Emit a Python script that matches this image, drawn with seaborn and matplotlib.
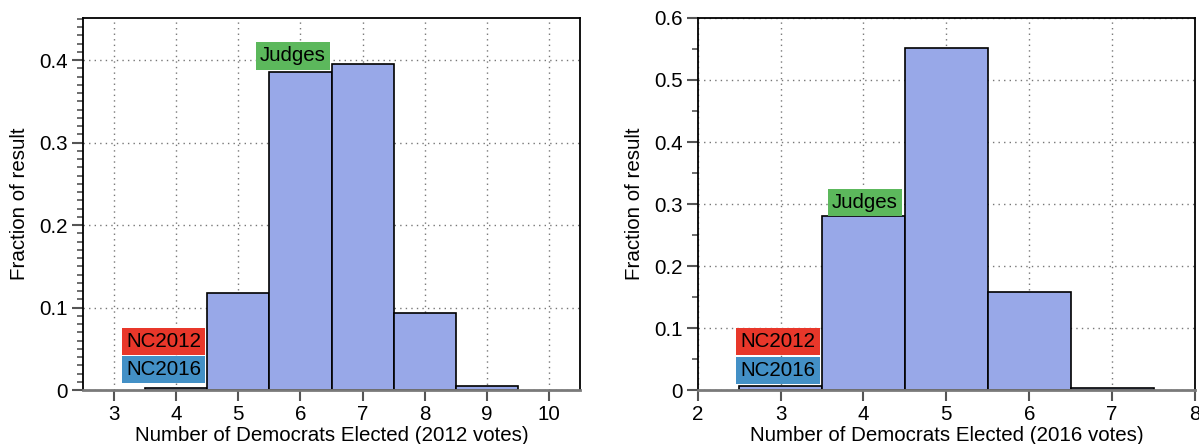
import matplotlib
matplotlib.use("Agg")
import matplotlib.pyplot as plt
import seaborn as sns
import pandas as pd
from matplotlib.ticker import MultipleLocator

# Data
seats_2012 = [4, 5, 6, 7, 8, 9]
frac_2012 = [0.003, 0.117, 0.386, 0.395, 0.093, 0.0045]
seats_2016 = [3, 4, 5, 6, 7]
frac_2016 = [0.006, 0.280, 0.551, 0.158, 0.003]

xlabels = ["Number of Democrats Elected (2012 votes)",
           "Number of Democrats Elected (2016 votes)"]
ylabel = "Fraction of result"

# label positions (x, y) in data coordinates
labels_2012 = {"Judges": (5.88, 0.405), "NC2012": (3.80, 0.059), "NC2016": (3.80, 0.0246)}
labels_2016 = {"Judges": (4.02, 0.303), "NC2012": (2.97, 0.078), "NC2016": (2.97, 0.032)}
label_colors = {"Judges": "#5cb85c", "NC2012": "#e8372a", "NC2016": "#4390c6"}

sns.set_theme(style="white")
plt.rcParams["font.family"] = ["Liberation Sans", "DejaVu Sans"]

FS = 14.8

fig = plt.figure(figsize=(11.99, 4.44), dpi=100)
ax1 = fig.add_axes([83 / 1199, 54 / 444, 497 / 1199, 372 / 444])
ax2 = fig.add_axes([697.7 / 1199, 54 / 444, 497.3 / 1199, 372 / 444])

bar_color = "#98a8e8"

panels = [
    (ax1, seats_2012, frac_2012, (2.5, 10.5), (0, 0.451), 0.1, 0.01, range(3, 11), labels_2012, xlabels[0]),
    (ax2, seats_2016, frac_2016, (2, 8), (0, 0.6), 0.1, 0.05, range(2, 9), labels_2016, xlabels[1]),
]

for ax, seats, fracs, xlim, ylim, ymaj, ymin, xt, labs, xl in panels:
    df = pd.DataFrame({"seats": seats, "frac": fracs})
    sns.histplot(data=df, x="seats", weights="frac", discrete=True, stat="count",
                 color=bar_color, alpha=1, edgecolor="black", linewidth=1.2, ax=ax,
                 zorder=2)
    ax.set_xlim(*xlim)
    ax.set_ylim(*ylim)
    ax.set_xticks(list(xt))
    ax.yaxis.set_major_locator(MultipleLocator(ymaj))
    ax.yaxis.set_minor_locator(MultipleLocator(ymin))
    ax.yaxis.set_major_formatter(matplotlib.ticker.FuncFormatter(
        lambda v, p: "0" if abs(v) < 1e-9 else f"{v:.1f}"))
    ax.grid(True, which="major", linestyle=(0, (1, 3)), color="#777777", linewidth=1.0, zorder=0)
    ax.set_axisbelow(True)
    ax.tick_params(axis="both", which="major", direction="out", length=8, width=1.5,
                   color="#555555", labelsize=FS, pad=3, left=True, bottom=True,
                   labelcolor="black")
    ax.tick_params(axis="y", which="minor", direction="out", length=4, width=1.2,
                   color="#555555", left=True)
    ax.set_xlabel(xl, fontsize=FS, labelpad=1, color="black")
    ax.set_ylabel(ylabel, fontsize=FS, labelpad=7, color="black")
    for s in ["left", "top", "right"]:
        ax.spines[s].set_color("black")
        ax.spines[s].set_linewidth(1.3)
    ax.spines["bottom"].set_color("#7a7a7a")
    ax.spines["bottom"].set_linewidth(2)
    for text, (x, y) in labs.items():
        ax.text(x, y, text, ha="center", va="center", fontsize=FS, color="black",
                zorder=5,
                bbox=dict(boxstyle="square,pad=0.2", facecolor=label_colors[text],
                          edgecolor="none"))

fig.savefig("out.png", dpi=100)
